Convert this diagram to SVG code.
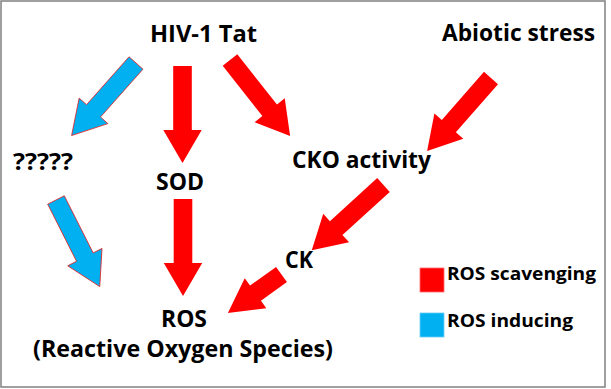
<svg xmlns="http://www.w3.org/2000/svg" width="611" height="389" viewBox="0 0 611 389">
<style>
  .t { font-family: "Open Sans", "Liberation Sans", sans-serif; font-weight: bold; font-size: 23px; fill: #000; }
  .lg { font-family: "Open Sans", "Liberation Sans", sans-serif; font-weight: bold; font-size: 18.5px; fill: #000; }
  .red { fill: #FF0000; }
  .blue { fill: #00B0F0; stroke: #E0262A; stroke-width: 0.8; }
</style>
<defs>
  <polygon id="arr" points="0,-9.3 64,-9.3 64,-19.2 97,0 64,19.2 64,9.3 0,9.3"/>
</defs>
<rect x="1" y="1" width="604" height="386" fill="#FFFFFF" stroke="#808080" stroke-width="1.5"/>
<g id="connectors">
  <use href="#arr" class="blue" transform="translate(136,63) rotate(131.6)"/>
  <use href="#arr" class="red" transform="translate(182.5,66) rotate(90)"/>
  <use href="#arr" class="red" transform="translate(230,60) rotate(51.7)"/>
  <use href="#arr" class="red" transform="translate(491,78) rotate(131.2)"/>
  <use href="#arr" class="red" transform="translate(383.5,185) rotate(137.7)"/>
  <polygon class="red" points="0,-9.3 32,-9.3 32,-18.5 66,0 32,18.5 32,9.3 0,9.3" transform="translate(281.5,274.5) rotate(144.3)"/>
  <use href="#arr" class="red" transform="translate(183,199) rotate(90)"/>
  <use href="#arr" class="blue" transform="translate(56,200) rotate(63.2)"/>
</g>
<g id="hiv"><text class="t" x="150" y="41.5" textLength="107" lengthAdjust="spacingAndGlyphs">HIV-1 Tat</text></g>
<g id="abiotic"><text class="t" x="442" y="40.5" textLength="153" lengthAdjust="spacingAndGlyphs">Abiotic stress</text></g>
<g id="unknown"><text class="t" x="13" y="170" textLength="60" lengthAdjust="spacingAndGlyphs">?????</text></g>
<g id="sod"><text class="t" x="156" y="190" textLength="48" lengthAdjust="spacingAndGlyphs">SOD</text></g>
<g id="cko"><text class="t" x="292" y="168" textLength="139" lengthAdjust="spacingAndGlyphs">CKO activity</text></g>
<g id="ck"><text class="t" x="285" y="268" textLength="28" lengthAdjust="spacingAndGlyphs">CK</text></g>
<g id="ros">
  <text class="t" x="161" y="327" textLength="46" lengthAdjust="spacingAndGlyphs">ROS</text>
  <text class="t" x="33" y="357" textLength="300" lengthAdjust="spacingAndGlyphs">(Reactive Oxygen Species)</text>
</g>
<g id="legend">
  <rect x="420" y="268" width="24" height="24" fill="#FF0000" stroke="#FF6666" stroke-width="0.8"/>
  <text class="lg" x="447" y="280" textLength="149" lengthAdjust="spacingAndGlyphs">ROS scavenging</text>
  <rect x="420" y="313" width="24" height="24" fill="#00B0F0" stroke="#66CCF5" stroke-width="0.8"/>
  <text class="lg" x="447" y="327" textLength="126" lengthAdjust="spacingAndGlyphs">ROS inducing</text>
</g>
</svg>
